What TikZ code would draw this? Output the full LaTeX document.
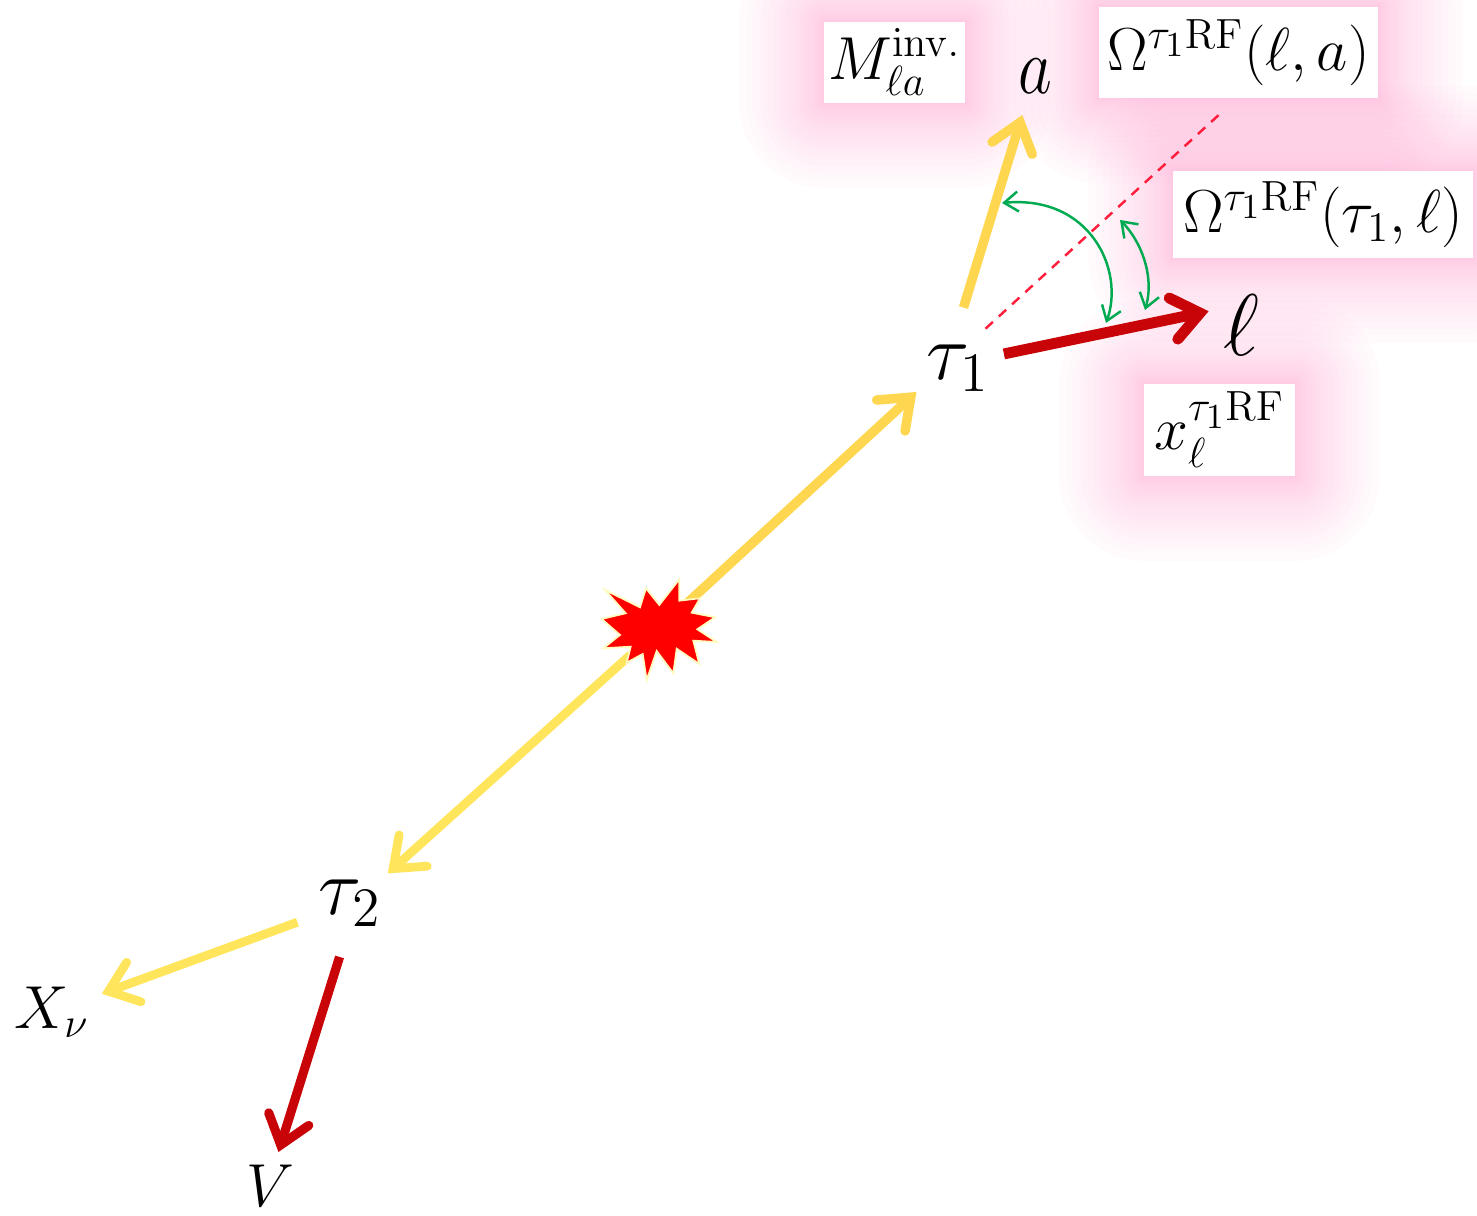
\documentclass[tikz,border=0pt]{standalone}
\usepackage{amsmath}
\usepackage{tikz}
\usetikzlibrary{arrows.meta}
\definecolor{taucol}{RGB}{255,214,80}
\definecolor{tautwocol}{RGB}{255,229,92}
\definecolor{leptcol}{RGB}{200,4,8}
\definecolor{anglecol}{RGB}{0,170,80}
\definecolor{glowcol}{RGB}{255,140,195}
\definecolor{dashcol}{RGB}{255,30,60}
\definecolor{starrim}{RGB}{255,250,190}
\tikzstyle{barb}=[-{Straight Barb[length=0.27cm,width=0.42cm,line cap=round,line join=miter]}]
\tikzstyle{tauline}=[barb,line width=2.7pt,taucol]
\tikzstyle{tautwoline}=[barb,line width=2.5pt,tautwocol]
\tikzstyle{leptline}=[barb,line width=2.6pt,leptcol]
\tikzstyle{angle line}=[{Straight Barb[length=0.14cm,width=0.2cm]}-{Straight Barb[length=0.14cm,width=0.2cm]},line width=0.7pt,anglecol]
\tikzstyle{particle}=[circle,inner sep=0,outer sep=0,font=\fontsize{17.28}{20}\selectfont]
\tikzstyle{obsbox}=[fill=white,inner sep=0,outer sep=0,font=\fontsize{17.28}{20}\selectfont]
\tikzset{
  glow/.style={glowcol,fill opacity=#1},
  glow/.default=0.03}

\begin{document}
\begin{tikzpicture}
  \useasboundingbox (0,0) rectangle (14.77,12.16);

  % GLOW
  \begin{scope}
    \clip (0,0) rectangle (14.77,12.16);
    \foreach \x/\y/\w/\h in {8.945/11.535/1.41/0.81,12.385/11.635/2.79/0.91,
                             13.23/10.015/3.00/0.87,12.195/7.86/1.51/0.92}{
      \foreach \i [evaluate={\d=0.85*(\i/20)^1.8;}] in {1,...,20}{
        \fill[glow,rounded corners=\d cm] ({\x-\w/2-\d},{\y-\h/2-\d}) rectangle ({\x+\w/2+\d},{\y+\h/2+\d});
      }
    }
  \end{scope}

  % PARTICLES
  \node[particle,minimum size=0.74cm] (star) at (6.58,5.86) {};
  \node[particle,minimum size=0.96cm] (tau1) at (9.58,8.48) {\scalebox{1.32}{$\tau_1$}};
  \node[particle,minimum size=0.96cm] (tau2) at (3.50,3.13) {\scalebox{1.32}{$\tau_2$}};
  \node[particle,minimum size=0.82cm,font=\fontsize{20.74}{24}\selectfont] (a) at (10.35,11.40) {\scalebox{0.9}[1.1]{$a$}};
  \node[particle,minimum size=0.67cm,font=\fontsize{24.88}{28}\selectfont] (ell) at (12.41,8.91) {$\ell$};
  \node[particle,minimum size=1.06cm] (Xnu) at (0.52,2.04) {$X_\nu$};
  \node[particle,minimum size=0.70cm] (V) at (2.70,0.30) {$V$};
  \coordinate (dashend) at (12.22,11.04);

  % LABELS
  \node[obsbox,minimum width=1.41cm,minimum height=0.81cm] (Minv) at (8.945,11.535) {$M^{\mathrm{inv.}}_{\ell a}$};
  \node[obsbox,minimum width=2.79cm,minimum height=0.91cm] (Omega a) at (12.385,11.635) {$\Omega^{\tau_1\mathrm{RF}}(\ell,a)$};
  \node[obsbox,minimum width=3.00cm,minimum height=0.87cm] (Omega tau) at (13.23,10.015) {$\Omega^{\tau_1\mathrm{RF}}(\tau_1,\ell)$};
  \node[obsbox,minimum width=1.51cm,minimum height=0.92cm] (xlep) at (12.195,7.86) {$x_\ell^{\tau_1\mathrm{RF}}$};

  % DECAY LINES
  \draw[dashcol,line width=0.7pt,dash pattern=on 0.1cm off 0.08cm] (tau1.55) -- (dashend);
  \draw[tauline] (star) -- (tau1.210);
  \draw[tautwoline] (star) -- (tau2.38);
  \draw[tauline,shorten <=0.13cm] (tau1.88) -- (a.252);
  \draw[leptline,line width=3.1pt] (tau1.17) -- (ell.157);
  \draw[tautwoline,shorten <=0.08cm] (tau2) -- (Xnu);
  \draw[leptline,shorten <=0.07cm] (tau2.260) -- (V.76);

  % ANGLES
  \draw[angle line] (10.02,10.13) .. controls (10.90,10.21) and (11.25,9.46) .. (11.06,8.93);
  \draw[angle line] (11.20,9.96) .. controls (11.40,9.76) and (11.55,9.41) .. (11.45,9.06);

  % STAR
  \fill[red,draw=starrim,line width=0.5pt,line join=miter]
    (6.05,6.26) -- (6.40,6.087) -- (6.46,6.277) -- (6.593,6.11) -- (6.793,6.367) -- (6.793,6.153)
    -- (7.00,6.177) -- (6.917,6.033) -- (7.15,5.987) -- (6.973,5.867) -- (7.167,5.74) -- (6.933,5.753)
    -- (6.993,5.52) -- (6.767,5.673) -- (6.733,5.427) -- (6.567,5.65) -- (6.467,5.36) -- (6.427,5.62)
    -- (6.267,5.533) -- (6.307,5.693) -- (6.033,5.677) -- (6.20,5.81) -- (6.017,5.97) -- (6.257,6.027) -- cycle;
\end{tikzpicture}
\end{document}
